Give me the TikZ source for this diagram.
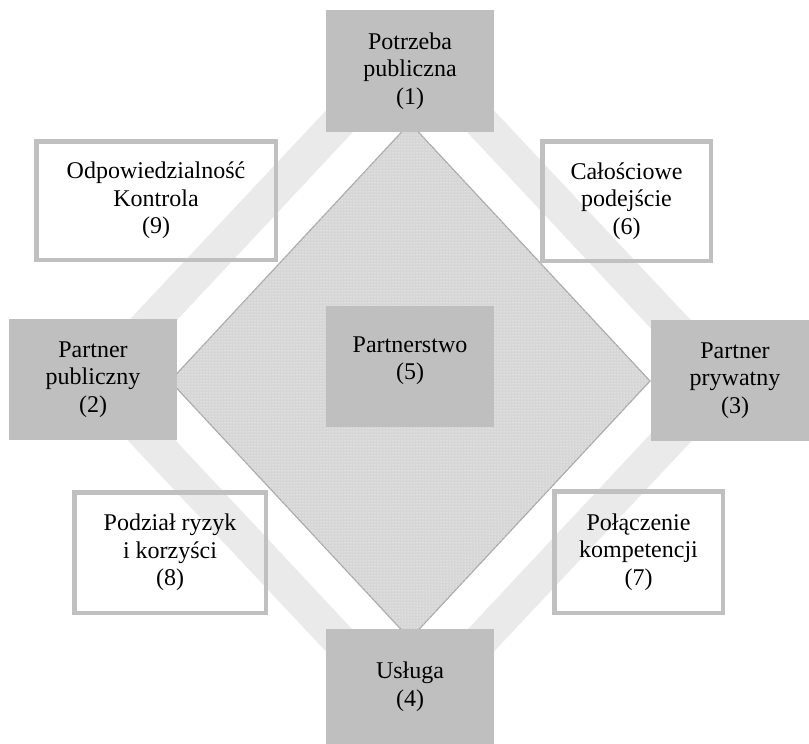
\documentclass[tikz,border=0pt]{standalone}
\usepackage{fontspec}
\setmainfont{Liberation Serif}
\usetikzlibrary{patterns}
\definecolor{boxgray}{HTML}{BFBFBF}
\definecolor{bandgray}{HTML}{EAEAEA}
\definecolor{dmdfill}{HTML}{D6D6D6}
\definecolor{dmdline}{HTML}{ABABAB}
\definecolor{framegray}{HTML}{C0C0C0}
\begin{document}
\begin{tikzpicture}[x=1pt,y=-1pt,
  lbl/.style={font=\fontsize{24}{27.5}\selectfont, align=center, inner sep=0pt, text=black},
  graybox/.style={lbl, fill=boxgray, draw=none, minimum width=168pt},
  framebox/.style={lbl, draw=framegray, line width=4.5pt, fill=none},
  band/.style={fill=bandgray, even odd rule},
  dmd/.style={fill=dmdfill, draw=dmdline, line width=1.2pt, postaction={pattern=dots, pattern color=white}}]
\useasboundingbox (0,0) rectangle (809,744);
% light frame band
\path[band] (410,21) -- (748,381) -- (410,741) -- (72,381) -- cycle
            (410,71) -- (700,381) -- (410,691) -- (120,381) -- cycle;
% central diamond
\path[dmd] (410,123) -- (650,381) -- (410,639) -- (170,381) -- cycle;
% outlined boxes
\node[framebox, minimum width=239.5pt, minimum height=118.5pt] (b9) at (156,200.5) {Odpowiedzialność\\Kontrola\\(9)};
\node[framebox, minimum width=168.5pt, minimum height=119.5pt] (b6) at (626.5,201) {Całościowe\\podejście\\(6)};
\node[framebox, minimum width=191.5pt, minimum height=120.5pt] (b8) at (170,552.5) {Podział ryzyk\\i korzyści\\(8)};
\node[framebox, minimum width=168.5pt, minimum height=121.5pt] (b7) at (638.5,552) {Połączenie\\kompetencji\\(7)};
% filled boxes
\node[graybox, minimum height=122pt] (b1) at (410,71) {Potrzeba\\publiczna\\(1)};
\node[graybox, minimum height=121pt] (b2) at (93,379.5) {Partner\\publiczny\\(2)};
\node[graybox, minimum height=121pt] (b3) at (735,380.5) {Partner\\prywatny\\(3)};
\node[graybox, minimum height=115pt] (b4) at (410,686.5) {Usługa\\(4)};
\node[graybox, minimum height=121pt] (b5) at (410,366.5) {};
\node[lbl] (t5) at ([yshift=6pt]b5.center) {Partnerstwo\\(5)};
\end{tikzpicture}
\end{document}
